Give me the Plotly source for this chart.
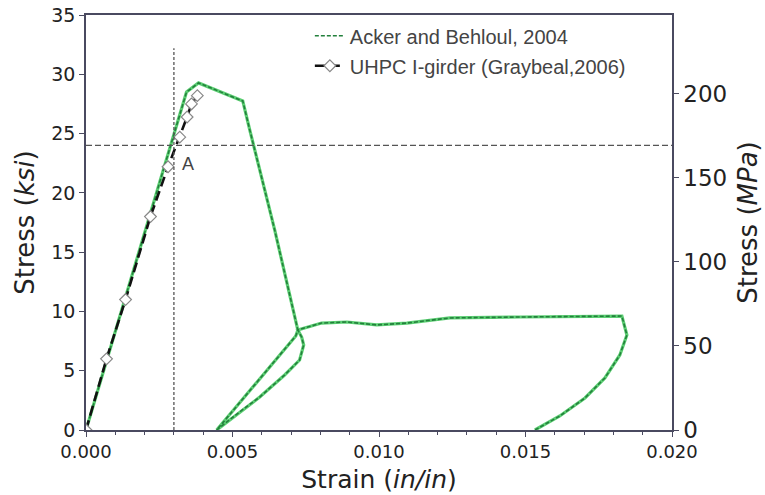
import plotly.graph_objects as go

# Acker and Behloul, 2004 (strain in/in, stress ksi)
acker_strain = [0.0, 0.00343, 0.00384, 0.00535, 0.00559, 0.00644, 0.00723, 0.00716, 0.00446,
                0.00524, 0.00593, 0.00678, 0.00729, 0.00743, 0.00736, 0.00723,
                0.00757, 0.00804, 0.00890, 0.00992, 0.01095, 0.01242, 0.01481, 0.01829,
                0.01846, 0.01822, 0.01771, 0.01703, 0.01617, 0.01532]
acker_stress = [0.0, 28.5, 29.27, 27.75, 25.3, 16.87, 8.43, 7.93, 0.0,
                1.52, 2.78, 4.64, 5.90, 7.17, 7.84, 8.43,
                8.69, 9.02, 9.11, 8.86, 9.02, 9.45, 9.53, 9.61,
                8.01, 6.33, 4.39, 2.70, 1.18, 0.0]

# UHPC I-girder (Graybeal, 2006)
gray_strain = [0.0, 0.0007, 0.00135, 0.0022, 0.0028, 0.0032, 0.00345, 0.0036, 0.0038]
gray_stress = [0.0, 6.0, 11.0, 18.0, 22.2, 24.7, 26.4, 27.5, 28.2]

ref_strain = 0.003
ref_stress = 24.0
ref_vline_top = 32.2

x_ticks = [0.0, 0.005, 0.010, 0.015, 0.020]
x_labels = ["0.000", "0.005", "0.010", "0.015", "0.020"]
y_ticks = [0, 5, 10, 15, 20, 25, 30, 35]
y2_ticks = [0, 50, 100, 150, 200]

axis_col = "#4a4a60"
txt_col = "#222"

fig = go.Figure()

# light underlay for the green curve
fig.add_trace(go.Scatter(x=acker_strain, y=acker_stress, mode="lines",
                         line=dict(color="#5ccf73", width=3.2), showlegend=False,
                         hoverinfo="skip", legendgroup="a"))
fig.add_trace(go.Scatter(x=acker_strain, y=acker_stress, mode="lines",
                         name="Acker and Behloul, 2004", legendgroup="a",
                         line=dict(color="#23803c", width=1.6, dash="4px,2px")))
fig.add_trace(go.Scatter(x=gray_strain, y=gray_stress, mode="lines+markers",
                         name="UHPC I-girder (Graybeal,2006)", legendgroup="b",
                         line=dict(color="#111", width=2.6, dash="10px,5px"),
                         marker=dict(symbol="diamond", size=9, color="white",
                                     line=dict(color="#888", width=1.2))))

# invisible trace to activate right axis
fig.add_trace(go.Scatter(x=[0], y=[0], yaxis="y2", mode="markers",
                         marker=dict(opacity=0), showlegend=False, hoverinfo="skip"))

fig.add_shape(type="line", x0=ref_strain, x1=ref_strain, y0=0, y1=ref_vline_top,
              xref="x", yref="y", line=dict(color="#555", width=1.3, dash="3px,2px"))
fig.add_shape(type="line", x0=0, x1=0.020, y0=ref_stress, y1=ref_stress,
              xref="x", yref="y", line=dict(color="#555", width=1.3, dash="6px,3px"))

fig.add_annotation(x=0.0032, y=22.4, text="A", showarrow=False, xref="x", yref="y",
                   xanchor="left", font=dict(family="Liberation Sans", size=18, color="#444"))

fig.update_layout(
    width=765, height=495,
    margin=dict(l=86, r=93, t=15, b=65),
    paper_bgcolor="white", plot_bgcolor="white",
    showlegend=True,
    legend=dict(x=0.382, y=0.997, xanchor="left", yanchor="top",
                bgcolor="rgba(255,255,255,0)", borderwidth=0,
                font=dict(family="Liberation Sans", size=20, color="#444"),
                traceorder="grouped", tracegroupgap=1),
    xaxis=dict(range=[0, 0.020], tickvals=x_ticks, ticktext=x_labels, automargin=False,
               showgrid=False, zeroline=False, showline=True, linecolor=axis_col, linewidth=1.5,
               mirror=True, ticks="outside", ticklen=5, tickcolor=axis_col,
               minor=dict(dtick=0.001, ticks="outside", ticklen=3, tickcolor=axis_col),
               tickfont=dict(family="DejaVu Sans", size=18, color=txt_col),
               title=dict(text="Strain (<i>in/in</i>)", font=dict(family="DejaVu Sans", size=25, color=txt_col),
                          standoff=9)),
    yaxis=dict(range=[0, 35], tickvals=y_ticks, showgrid=False, zeroline=False, automargin=False,
               showline=True, linecolor=axis_col, linewidth=1.5, ticks="outside", ticklen=5,
               tickcolor=axis_col, tickfont=dict(family="DejaVu Sans", size=19, color=txt_col),
               title=dict(text="Stress (<i>ksi</i>)", font=dict(family="DejaVu Sans", size=26, color=txt_col),
                          standoff=9)),
    yaxis2=dict(range=[0, 247], tickvals=y2_ticks, overlaying="y", side="right", automargin=False,
                showgrid=False, zeroline=False, showline=True, linecolor=axis_col, linewidth=1.5,
                ticks="outside", ticklen=5, tickcolor=axis_col,
                tickfont=dict(family="DejaVu Sans", size=23, color=txt_col),
                title=dict(text="Stress (<i>MPa</i>)", font=dict(family="DejaVu Sans", size=26, color=txt_col),
                           standoff=13)),
)

fig.write_html("out.html")
